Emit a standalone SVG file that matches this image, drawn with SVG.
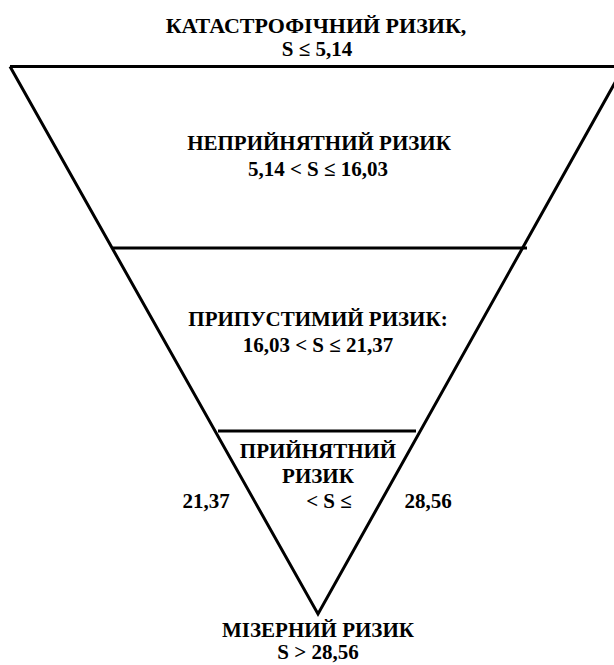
<svg xmlns="http://www.w3.org/2000/svg" width="614" height="665" viewBox="0 0 614 665">
<style>
text{font-family:"Liberation Serif","Times New Roman","DejaVu Serif",serif;font-weight:bold;font-size:21px;fill:#000;text-anchor:middle}
.t{font-size:22px}
.ln{stroke:#000;stroke-width:3;fill:none}
</style>
<rect width="614" height="665" fill="#fff"/>
<g id="connectors">
<line class="ln" x1="10" y1="66.5" x2="614" y2="66.5"/>
<polyline class="ln" points="10,66.5 318,614 624,66.5" stroke-linejoin="miter"/>
<line class="ln" x1="113" y1="248" x2="527" y2="248"/>
<line class="ln" x1="218" y1="431" x2="416" y2="431"/>
</g>
<g id="katastrofichnyi">
<text class="t" x="316" y="33">КАТАСТРОФІЧНИЙ РИЗИК,</text>
<text x="317" y="56">S ≤ 5,14</text>
</g>
<g id="nepryiniatnyi">
<text x="319" y="150">НЕПРИЙНЯТНИЙ РИЗИК</text>
<text x="318" y="176">5,14 &lt; S ≤ 16,03</text>
</g>
<g id="prypustymyi">
<text x="318" y="326">ПРИПУСТИМИЙ РИЗИК:</text>
<text x="318" y="352">16,03 &lt; S ≤ 21,37</text>
</g>
<g id="pryiniatnyi">
<text x="318" y="458">ПРИЙНЯТНИЙ</text>
<text x="318" y="483">РИЗИК</text>
<text x="206" y="508">21,37</text>
<text x="329" y="508">&lt; S ≤</text>
<text x="428" y="508">28,56</text>
</g>
<g id="mizernyi">
<text x="318" y="637">МІЗЕРНИЙ РИЗИК</text>
<text x="318" y="659">S &gt; 28,56</text>
</g>
</svg>
